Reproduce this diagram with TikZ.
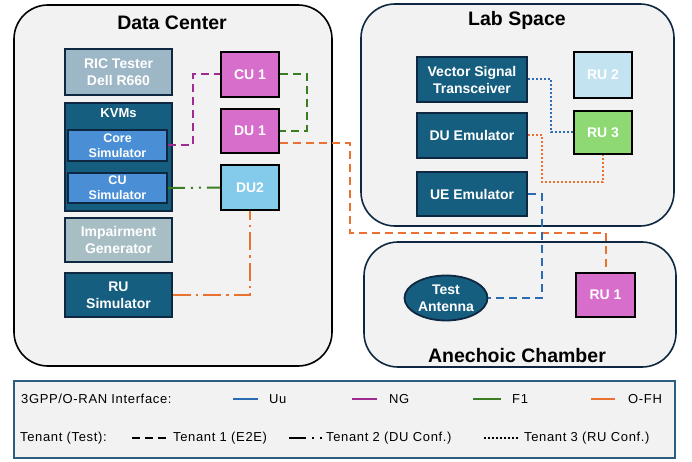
\documentclass[tikz,border=0pt]{standalone}
\usepackage{fontspec}
\setmainfont{Liberation Sans}
\newfontfamily\legendfont[LetterSpace=5]{Liberation Sans}
\usetikzlibrary{shapes.geometric}

\definecolor{zonefill}{HTML}{F2F2F2}
\definecolor{zoneline}{HTML}{0E2841}
\definecolor{darkteal}{HTML}{165E80}
\definecolor{simblue}{HTML}{4A8FD6}
\definecolor{ricgray}{HTML}{9DB7C6}
\definecolor{impgray}{HTML}{A7BEC4}
\definecolor{magentabox}{HTML}{D86ECB}
\definecolor{lightblue}{HTML}{83CAEB}
\definecolor{paleblue}{HTML}{C3E3F1}
\definecolor{greenbox}{HTML}{8ED973}
\definecolor{uublue}{HTML}{2A6BB3}
\definecolor{ngpurple}{HTML}{A02B93}
\definecolor{fgreen}{HTML}{3B7D23}
\definecolor{fhorange}{HTML}{E97132}
\definecolor{legendline}{HTML}{2C5F7F}

\begin{document}
\begin{tikzpicture}[x=1pt,y=-1pt,
  zone/.style={draw, line width=1.6pt, fill=zonefill, rounded corners=34pt},
  zonetitle/.style={font=\fontsize{19.5}{22}\selectfont\bfseries},
  box/.style={draw=black, line width=1.8pt, text=white, align=center, inner sep=1pt,
    font=\fontsize{14}{17}\selectfont\bfseries},
  tealbox/.style={box, draw=zoneline, fill=darkteal},
  simbox/.style={box, draw=zoneline, fill=simblue, font=\fontsize{12.5}{15}\selectfont\bfseries},
  legtext/.style={anchor=west, inner sep=0pt, font=\legendfont\fontsize{13}{15}\selectfont},
  link/.style={line width=2pt},
  tenantone/.style={dash pattern=on 8pt off 5pt},
  tenanttwo/.style={dash pattern=on 17pt off 6pt on 2pt off 6pt on 2pt off 6pt},
  tenanttwodot/.style={dash pattern=on 18pt off 5pt on 2.5pt off 5pt},
  tenantthree/.style={dash pattern=on 2pt off 2pt}]
\useasboundingbox (0,0) rectangle (692,462);

% areas
\node[zone, minimum width=318, minimum height=361](dc) at (173,185.5) {};
\node[zonetitle](dctitle) at (172,23) {Data Center};
\node[zone, draw=zoneline, minimum width=313, minimum height=222](lab) at (517.5,115) {};
\node[zonetitle](labtitle) at (517,20) {Lab Space};
\node[zone, draw=zoneline, minimum width=312, minimum height=125](ac) at (520,304.5) {};
\node[zonetitle](actitle) at (517,356) {Anechoic Chamber};

% data center
\node[box, fill=ricgray, draw=zoneline, minimum width=107, minimum height=46](ric) at (118.5,72) {RIC Tester\\Dell R660};
\node[tealbox, minimum width=107, minimum height=108](kvm) at (118.5,157) {};
\node[box, draw=none, font=\fontsize{13}{15}\selectfont\bfseries](kvmlabel) at (118.5,113) {KVMs};
\node[simbox, minimum width=99, minimum height=31](core) at (117.5,145.5) {Core\\Simulator};
\node[simbox, minimum width=99, minimum height=30](cusim) at (117.5,188) {CU\\Simulator};
\node[box, fill=impgray, draw=zoneline, minimum width=107, minimum height=44](imp) at (118.5,240) {Impairment\\Generator};
\node[tealbox, minimum width=107, minimum height=44](rusim) at (118.5,295) {RU\\Simulator};

\node[box, fill=magentabox, minimum width=58, minimum height=45](cu1) at (250,74.5) {CU 1};
\node[box, fill=magentabox, minimum width=58, minimum height=44](du1) at (250,131) {DU 1};
\node[box, fill=lightblue, minimum width=58, minimum height=45](du2) at (250,187.5) {DU2};

% lab space
\node[tealbox, minimum width=110, minimum height=45](vst) at (472,79.5) {Vector Signal\\Transceiver};
\node[tealbox, minimum width=110, minimum height=45](duem) at (472,135.5) {DU Emulator};
\node[tealbox, minimum width=110, minimum height=44](ueem) at (472,194) {UE Emulator};
\node[box, fill=paleblue, minimum width=58, minimum height=46](ru2) at (603,75) {RU 2};
\node[box, fill=greenbox, minimum width=58, minimum height=43](ru3) at (603,132.5) {RU 3};

% anechoic chamber
\node[box, ellipse, draw=zoneline, fill=darkteal, minimum width=83, minimum height=45](ant) at (446,298) {Test\\Antenna};
\node[box, fill=magentabox, minimum width=59, minimum height=44](ru1) at (605.5,295) {RU 1};

% links
\coordinate (fhbend) at (350,233);
\coordinate (dotbend) at (542,182);
\draw[link, ngpurple, tenantone] (core.east) -- ++(25,0) |- (cu1.west);
\draw[link, fgreen, tenantone] (cu1.east) -- ++(27,0) |- (du1.east);
\draw[link, fgreen, tenanttwo] (cusim.east) -- (du2.west);
\draw[link, fhorange, tenanttwodot] (rusim.east) -| (du2.south);
\draw[link, fhorange, tenantone] ([yshift=-12pt]du1.east) -| (fhbend) -| (ru1.north);
\draw[link, uublue, tenantthree] (vst.east) -- ++(23,0) |- (ru3.west);
\draw[link, fhorange, tenantthree] (duem.east) -| (dotbend) -| (ru3.south);
\draw[link, uublue, tenantone] (ueem.east) -- ++(14,0) |- (ant.east);

% legend
\node[draw=legendline, line width=1.8pt, fill=zonefill, minimum width=661, minimum height=77](legend) at (344.5,419.5) {};
\node[legtext](ifacelabel) at (21,399) {3GPP/O-RAN Interface:};
\draw[link, uublue] (233,399) -- (258,399);
\node[legtext](uutext) at (269,399) {Uu};
\draw[link, ngpurple] (352,399) -- (377,399);
\node[legtext](ngtext) at (389,399) {NG};
\draw[link, fgreen] (473,399) -- (501,399);
\node[legtext](f1text) at (512,399) {F1};
\draw[link, fhorange] (591,399) -- (615,399);
\node[legtext](fhtext) at (628,399) {O-FH};
\node[legtext](tenantlabel) at (20,438) {Tenant (Test):};
\draw[link, line width=2.5pt, tenantone] (132,438) -- (167,438);
\node[legtext](tenone) at (173,438) {Tenant 1 (E2E)};
\draw[link, line width=2.5pt, tenanttwo] (289,438) -- (322,438);
\node[legtext](tentwo) at (326,438) {Tenant 2 (DU Conf.)};
\draw[link, tenantthree] (484,438) -- (518,438);
\node[legtext](tenthree) at (524,438) {Tenant 3 (RU Conf.)};
\end{tikzpicture}
\end{document}
